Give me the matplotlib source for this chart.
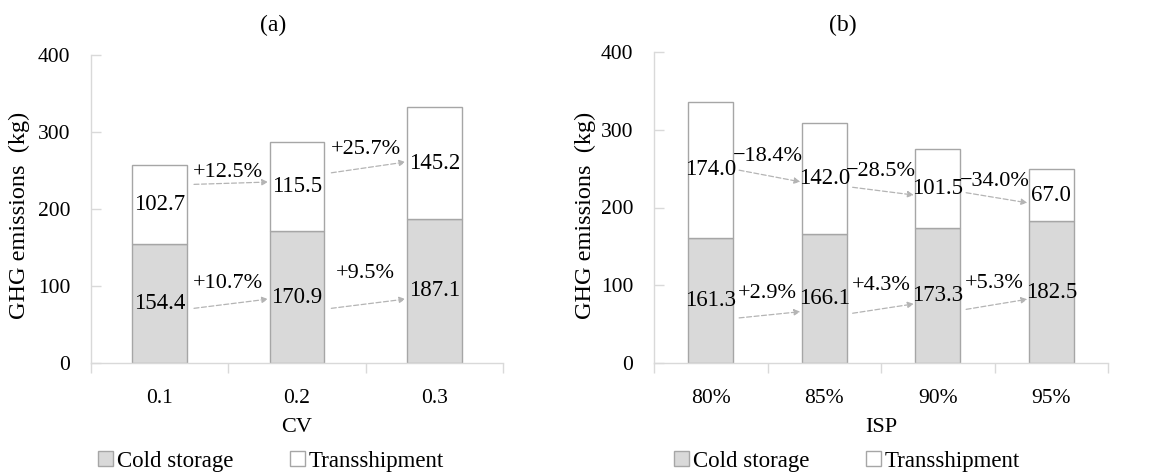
import matplotlib
matplotlib.use("Agg")
import matplotlib.pyplot as plt
from matplotlib.patches import Patch
import numpy as np

plt.rcParams['font.family'] = ['Liberation Serif', 'DejaVu Serif']

# ---- data ----
cv_labels = ["0.1", "0.2", "0.3"]
cv_cold = [154.4, 170.9, 187.1]
cv_trans = [102.7, 115.5, 145.2]
cv_pct_cold = ["+10.7%", "+9.5%"]
cv_pct_trans = ["+12.5%", "+25.7%"]

isp_labels = ["80%", "85%", "90%", "95%"]
isp_cold = [161.3, 166.1, 173.3, 182.5]
isp_trans = [174.0, 142.0, 101.5, 67.0]
isp_pct_cold = ["+2.9%", "+4.3%", "+5.3%"]
isp_pct_trans = ["\u221218.4%", "\u221228.5%", "\u221234.0%"]

# annotation placement (label y, arrow start y, arrow end y), in data units
cv_trans_ann = [(248, 232, 235), (277, 247, 261)]
cv_cold_ann = [(103, 71, 83), (116, 71, 83)]
isp_trans_ann = [(265, 248, 233), (246, 226, 216), (234, 219, 206)]
isp_cold_ann = [(90, 58, 66), (100, 64, 76), (102, 69, 82)]

W, H = 1156, 472
fig = plt.figure(figsize=(W / 100, H / 100), dpi=100)

cold_fc = "#d9d9d9"
edge_c = "#a6a6a6"
arrow_c = "#b4b4b4"
spine_c = "#d9d9d9"


def panel(rect, labels, cold, trans, pct_cold, pct_trans, ann_cold, ann_trans,
          xlabel, title, title_x, ylab_x, leg_x):
    ax = fig.add_axes(rect)
    x = np.arange(len(labels))
    bw = 0.4
    ax.bar(x, cold, bw, color=cold_fc, edgecolor=edge_c, linewidth=1.0, zorder=2)
    ax.bar(x, trans, bw, bottom=cold, color="white", edgecolor=edge_c, linewidth=1.0, zorder=2)
    for i in range(len(labels)):
        ax.text(x[i], cold[i] / 2, f"{cold[i]:.1f}", ha="center", va="center",
                fontsize=16.5, zorder=3)
        ax.text(x[i], cold[i] + trans[i] / 2, f"{trans[i]:.1f}", ha="center",
                va="center", fontsize=16.5, zorder=3)
    for i in range(len(labels) - 1):
        for pct, (ly, y0, y1) in ((pct_trans[i], ann_trans[i]), (pct_cold[i], ann_cold[i])):
            ax.text(x[i] + 0.5, ly, pct, ha="center", va="center", fontsize=16, zorder=3)
            ax.annotate("", xy=(x[i] + 0.79, y1), xytext=(x[i] + 0.25, y0),
                        arrowprops=dict(arrowstyle="-|>", color=arrow_c, lw=0.9,
                                        linestyle=(0, (4, 2)), mutation_scale=9,
                                        shrinkA=0, shrinkB=0), zorder=3)
    ax.set_xlim(-0.5, len(labels) - 0.5)
    ax.set_ylim(0, 400)
    ax.set_yticks([0, 100, 200, 300, 400])
    ax.set_xticks(x)
    ax.set_xticklabels(labels)
    ax.set_xticks(np.arange(-0.5, len(labels), 1.0), minor=True)
    ax.tick_params(axis="x", which="major", length=0, pad=19, labelsize=15.5)
    ax.tick_params(axis="x", which="minor", length=7, width=1, color=spine_c, direction="out")
    ax.tick_params(axis="y", which="major", length=7, width=1, color=spine_c,
                   direction="in", pad=15, labelsize=15.5)
    for s in ("top", "right"):
        ax.spines[s].set_visible(False)
    for s in ("left", "bottom"):
        ax.spines[s].set_color(spine_c)
        ax.spines[s].set_linewidth(1)
    ax.set_xlabel(xlabel, fontsize=16, labelpad=7)
    fig.text(title_x / W, 1 - 25 / H, title, ha="center", va="center", fontsize=17)
    fig.text(ylab_x / W, 1 - 215 / H, "GHG emissions  (kg)", rotation=90,
             ha="center", va="center", fontsize=17.5)
    handles = [Patch(facecolor=cold_fc, edgecolor=edge_c, label="Cold storage"),
               Patch(facecolor="white", edgecolor=edge_c, label="Transshipment")]
    fig.legend(handles=handles, loc="center", bbox_to_anchor=(leg_x / W, 1 - 461 / H),
               ncol=2, frameon=False, fontsize=16.5, handlelength=0.65, handleheight=0.65,
               handletextpad=0.15, columnspacing=2.5, borderpad=0, borderaxespad=0)
    return ax


panel([91 / W, 1 - 363 / H, (503 - 91) / W, (363 - 55) / H], cv_labels, cv_cold, cv_trans,
      cv_pct_cold, cv_pct_trans, cv_cold_ann, cv_trans_ann, "CV", "(a)", 273, 19, 271)
panel([654 / W, 1 - 363 / H, (1108 - 654) / W, (363 - 52) / H], isp_labels, isp_cold, isp_trans,
      isp_pct_cold, isp_pct_trans, isp_cold_ann, isp_trans_ann, "ISP", "(b)", 843, 585, 847)

fig.savefig("out.png", dpi=100)
